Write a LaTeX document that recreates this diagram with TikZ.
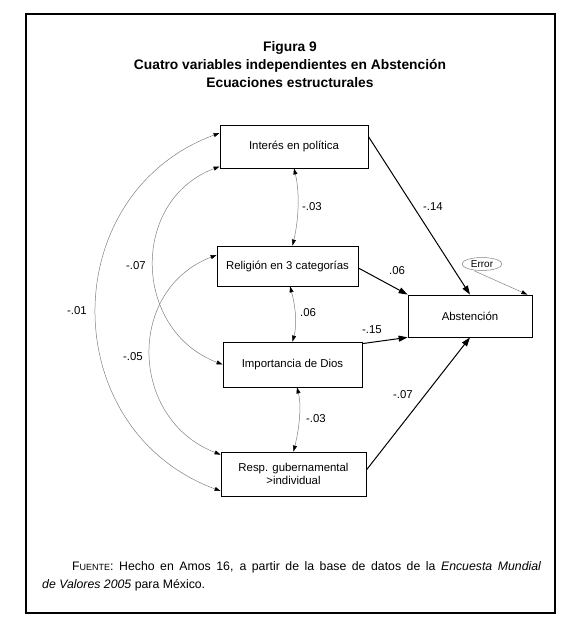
\documentclass[tikz,border=0pt]{standalone}
\usepackage{fontspec}
\setmainfont{Liberation Sans}
\usetikzlibrary{arrows.meta,shapes.geometric}
\begin{document}
\begin{tikzpicture}[x=1pt,y=-1pt,
  var/.style={draw,line width=0.8pt,inner sep=0pt,align=center,font=\fontsize{11.4}{13}\selectfont},
  patharrow/.style={line width=1pt,-{Triangle[length=9pt,width=6pt]}},
  covarrow/.style={draw=gray,line width=0.5pt,{Triangle[length=6pt,width=4pt,color=black]}-{Triangle[length=6pt,width=4pt,color=black]}},
  lab/.style={font=\fontsize{11.4}{13}\selectfont,inner sep=1pt}]
\useasboundingbox (0,0) rectangle (564,620);
\draw[line width=1.2pt] (26,14) rectangle (555,613);

% title
\node[font=\bfseries\fontsize{13.8}{18}\selectfont,align=center] (title) at (290,65)
  {Figura 9\\Cuatro variables independientes en Abstención\\Ecuaciones estructurales};

% variables
\node[var,minimum width=148pt,minimum height=43pt] (int) at (294,146.5) {Interés en política};
\node[var,minimum width=141pt,minimum height=40pt] (rel) at (287.5,266) {Religión en 3 categorías};
\node[var,minimum width=124pt,minimum height=42pt] (abs) at (470,316) {Abstención};
\node[var,minimum width=139pt,minimum height=45pt] (imp) at (292.5,364.5) {Importancia de Dios};
\node[var,minimum width=145pt,minimum height=44pt] (resp) at (293.5,474) {Resp. gubernamental\\>individual};
\node[ellipse,draw=gray,line width=0.5pt,minimum width=40pt,minimum height=13pt,inner sep=0pt,font=\fontsize{10}{12}\selectfont] (err) at (482,264) {Error};

% paths
\draw[patharrow] ([yshift=10pt]int.east) -- (abs.north);
\draw[patharrow] ([yshift=-2pt]rel.east) -- (abs.north west);
\draw[patharrow] ([yshift=-2pt]imp.north east) -- (abs.south west);
\draw[patharrow] ([yshift=4pt]resp.east) -- (abs.south);
\draw[draw=gray,line width=0.5pt,-{Triangle[length=6pt,width=4pt,color=black]}] ([xshift=-8pt]err.south) -- ([xshift=-5pt]abs.north east);

% covariances
\draw[covarrow] (int.south) .. controls +(6,25) and +(6,-25) .. ([xshift=5pt]rel.north);
\draw[covarrow] ([xshift=2.5pt]rel.south) .. controls +(5,18) and +(5,-18) .. (imp.north);
\draw[covarrow] ([xshift=4.5pt]imp.south) .. controls +(5,20) and +(5,-20) .. (resp.north);
\draw[covarrow] ([yshift=13.5pt]int.west) .. controls +(-165,61) and +(-165,-61) .. ([yshift=-17pt]resp.west);
\draw[covarrow] ([yshift=-20pt]int.west) .. controls +(-90,34) and +(-90,-34) .. (imp.west);
\draw[covarrow] ([yshift=11pt]rel.west) .. controls +(-91,35) and +(-91,-35) .. ([yshift=-3pt]resp.north west);

% labels
\node[lab] (l1) at (433,207) {-.14};
\node[lab] (l2) at (397,271) {.06};
\node[lab] (l3) at (372,330) {-.15};
\node[lab] (l4) at (403,395) {-.07};
\node[lab] (l5) at (312,207) {-.03};
\node[lab] (l6) at (308,313) {.06};
\node[lab] (l7) at (316,419) {-.03};
\node[lab] (l8) at (136,266) {-.07};
\node[lab] (l9) at (77,311) {-.01};
\node[lab] (l10) at (133,357) {-.05};

% source
\node[anchor=north west,text width=499pt,align=justify,inner sep=0pt,font=\fontsize{12.3}{18}\selectfont] (src) at (42,561)
  {\hspace*{30pt}F{\fontsize{9}{10}\selectfont UENTE}: Hecho en Amos 16, a partir de la base de datos de la \textit{Encuesta Mundial}\linebreak \textit{de Valores 2005} para México.};
\end{tikzpicture}
\end{document}
